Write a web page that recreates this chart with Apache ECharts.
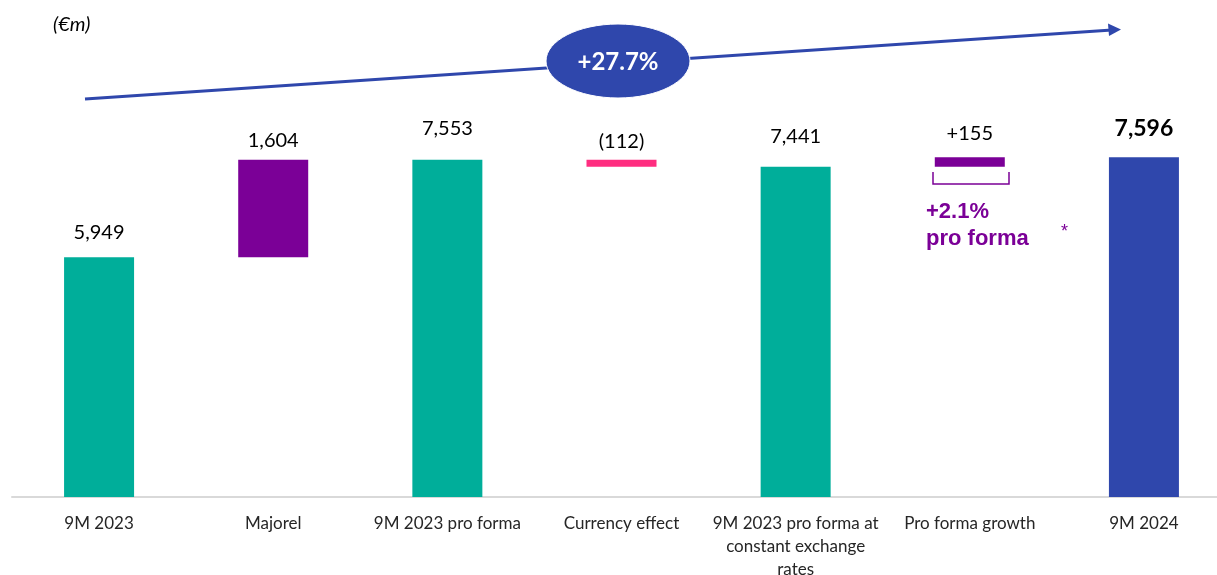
<!DOCTYPE html>
<html>
<head>
<meta charset="utf-8">
<script src="https://cdn.jsdelivr.net/npm/echarts@6/dist/echarts.min.js"></script>
<style>
  html, body { margin: 0; padding: 0; background: #fff; }
  #main { width: 1217px; height: 575px; }
</style>
</head>
<body>
<div id="main"></div>
<script>
// waterfall data (€m)
var categories = ['9M 2023', 'Majorel', '9M 2023 pro forma', 'Currency effect',
  '9M 2023 pro forma at\nconstant exchange\nrates', 'Pro forma growth', '9M 2024']
var values = [5949, 1604, 7553, -112, 7441, 155, 7596]
var kinds = ['total', 'delta', 'total', 'delta', 'total', 'delta', 'total']
var valueLabels = ['5,949', '1,604', '7,553', '(112)', '7,441', '+155', '7,596']
var barColors = ['#00ae9a', '#7b0097', '#00ae9a', '#ff2d80', '#00ae9a', '#7b0097', '#2f47ac']
var labelGap = [15, 9, 21, 8, 20, 14, 17]

var base = []
var visible = []
var running = 0
for (var i = 0; i < values.length; i++) {
  if (kinds[i] === 'total') {
    running = values[i]
    base.push(0)
    visible.push(values[i])
  } else {
    var next = running + values[i]
    base.push(Math.min(running, next))
    visible.push(Math.abs(values[i]))
    running = next
  }
}

var chart = echarts.init(document.getElementById('main'))

var option = {
  animation: false,
  textStyle: { fontFamily: 'Lato' },
  grid: { left: 12, width: 1219, top: 72, bottom: 78, containLabel: false, outerBoundsMode: 'none' },
  xAxis: {
    type: 'category',
    data: categories,
    axisLine: { lineStyle: { color: '#d9d9d9', width: 2 } },
    axisTick: { show: false },
    axisLabel: { color: '#262626', fontSize: 17, margin: 15, lineHeight: 23, interval: 0 }
  },
  yAxis: {
    type: 'value', min: 2000, max: 9000, show: false, splitLine: { show: false }
  },
  series: [
    {
      type: 'bar', stack: 'w', data: base, barWidth: 70,
      itemStyle: { color: 'transparent' }, silent: true
    },
    {
      type: 'bar', stack: 'w', barWidth: 70,
      data: visible.map(function (v, i) {
        return {
          value: v,
          itemStyle: { color: barColors[i] },
          label: {
            show: true, position: 'top', distance: labelGap[i],
            formatter: valueLabels[i],
            fontSize: i === 6 ? 23 : 20,
            fontWeight: i === 6 ? 'bold' : 'normal',
            color: '#000'
          }
        }
      })
    }
  ],
  graphic: [
    {
      type: 'text', left: 53, top: 15,
      style: { text: '(€m)', font: 'italic 20px Lato', fill: '#000' }
    },
    {
      type: 'line', z: 10,
      shape: { x1: 85, y1: 99, x2: 1112, y2: 30 },
      style: { stroke: '#2f47ac', lineWidth: 3 }
    },
    {
      type: 'polygon', z: 10,
      shape: { points: [[1121, 29.5], [1108, 23.5], [1109, 36]] },
      style: { fill: '#2f47ac' }
    },
    {
      type: 'ellipse', z: 11,
      shape: { cx: 618, cy: 61, rx: 72, ry: 37 },
      style: { fill: '#2f47ac', stroke: '#fff', lineWidth: 1 }
    },
    {
      type: 'text', z: 12, x: 618, y: 62,
      style: { text: '+27.7%', font: 'bold 24px Lato', fill: '#fff', align: 'center', verticalAlign: 'middle' }
    },
    {
      type: 'polyline', z: 10,
      shape: { points: [[933, 172], [933, 184], [1009, 184], [1009, 172]] },
      style: { stroke: '#7b0097', lineWidth: 1.5, fill: null }
    },
    {
      type: 'text', z: 10, left: 926, top: 198,
      style: { text: '+2.1%\npro forma', font: 'bold 22px "Liberation Sans"', fill: '#7b0097', lineHeight: 27 }
    },
    {
      type: 'text', z: 10, left: 1061, top: 223,
      style: { text: '*', font: '18px "Liberation Sans"', fill: '#7b0097' }
    }
  ]
}

chart.setOption(option)
</script>
</body>
</html>
